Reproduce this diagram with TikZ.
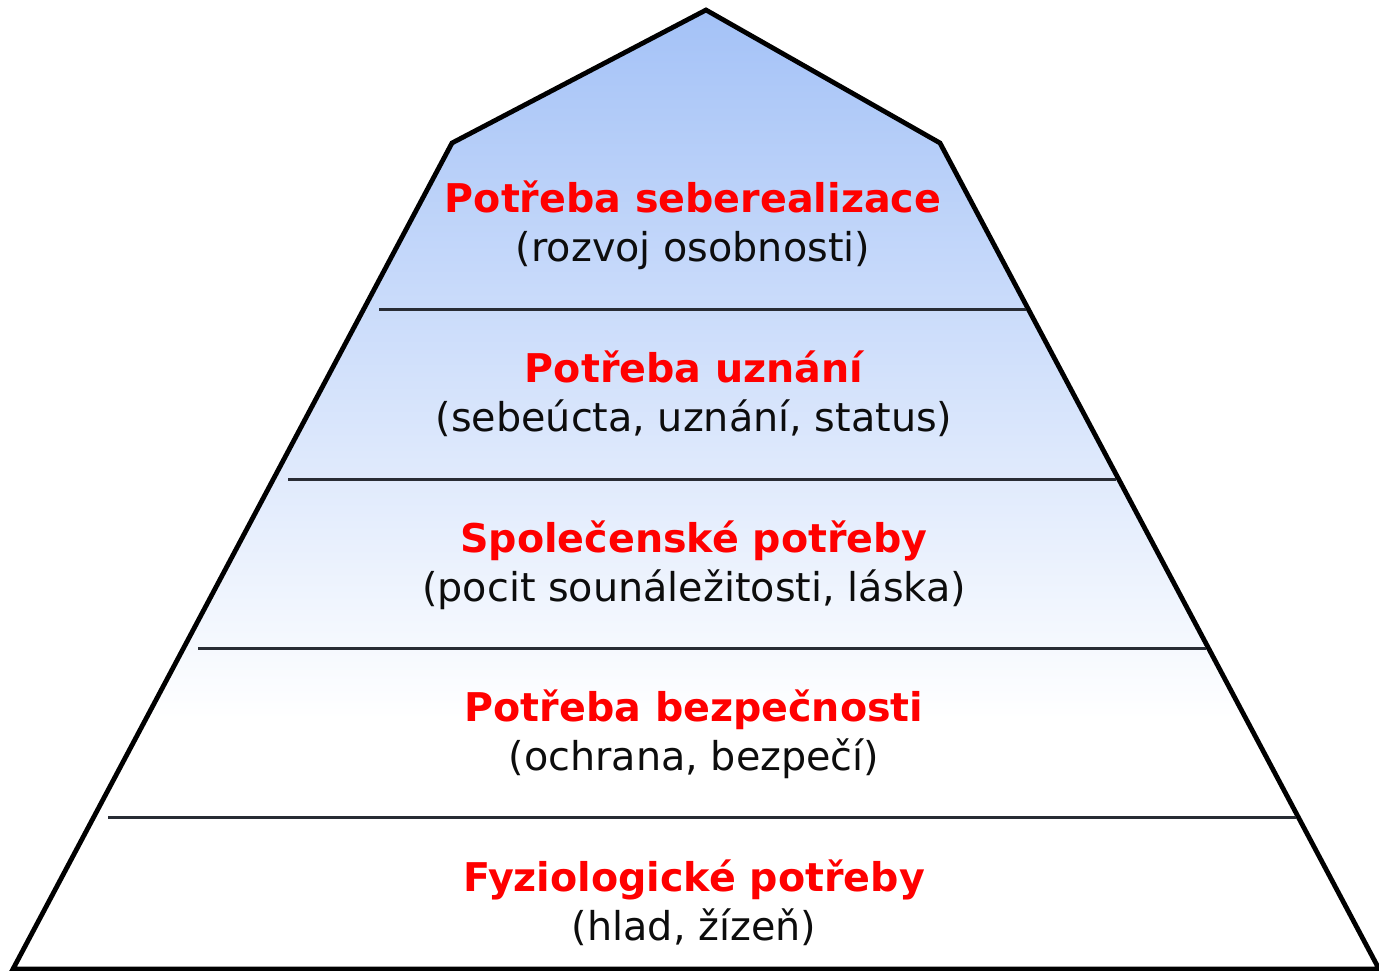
\documentclass[tikz,border=0pt]{standalone}
\usepackage{fontspec}
\setmainfont{DejaVu Sans}
\definecolor{pyrblue}{RGB}{164,194,247}
\definecolor{levelline}{RGB}{40,44,52}
\pgfdeclareverticalshading{pyrshade}{100bp}{color(0bp)=(white); color(38bp)=(white); color(75bp)=(pyrblue); color(100bp)=(pyrblue)}
\tikzset{
	needname/.style={text=red, font=\fontsize{39.6}{47}\selectfont\bfseries, anchor=base},
	needsub/.style={text=black!95, font=\fontsize{39.7}{47}\selectfont, anchor=base},
	level/.style={levelline, line width=3pt},
}
\begin{document}
\begin{tikzpicture}[x=1pt,y=-1pt]
	\useasboundingbox (0,0) rectangle (1379,971);
			\coordinate (T) at (706,10);
			\coordinate (SL) at (452,143);
			\coordinate (SR) at (940,143);
			\coordinate (BL) at (13,969);
			\coordinate (BR) at (1379,969);
			\shadedraw[shading=pyrshade, line width=4.8pt, line join=miter] (BL) -- (SL) -- (T) -- (SR) -- (BR) -- cycle;

				\coordinate (L1a) at (379,309);
				\coordinate (L1b) at (1026,309);
				\coordinate (L2a) at (288,479);
				\coordinate (L2b) at (1116,479);
				\coordinate (L3a) at (198,648);
				\coordinate (L3b) at (1206,648);
				\coordinate (L4a) at (108,817);
				\coordinate (L4b) at (1296,817);
			\draw[level] (L1a) -- (L1b);
			\draw[level] (L2a) -- (L2b);
			\draw[level] (L3a) -- (L3b);
			\draw[level] (L4a) -- (L4b);

			\node[needname] (N1) at (693,212) {Potřeba seberealizace};
				\node[needsub] (S1) at (693,261) {(rozvoj osobnosti)};
			\node[needname] (N2) at (694,382) {Potřeba uznání};
				\node[needsub] (S2) at (694,431) {(sebeúcta, uznání, status)};
			\node[needname] (N3) at (694,552) {Společenské potřeby};
				\node[needsub] (S3) at (694,601) {(pocit sounáležitosti, láska)};
			\node[needname] (N4) at (694,721) {Potřeba bezpečnosti};
				\node[needsub] (S4) at (694,770) {(ochrana, bezpečí)};
			\node[needname] (N5) at (694,891) {Fyziologické potřeby};
				\node[needsub] (S5) at (694,940) {(hlad, žízeň)};
\end{tikzpicture}
\end{document}
